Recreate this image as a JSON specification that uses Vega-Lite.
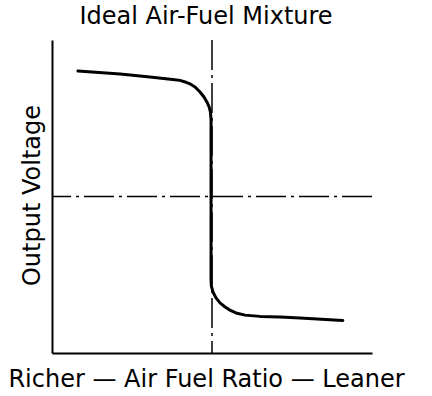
{
  "$schema": "https://vega.github.io/schema/vega-lite/v6.json",
  "autosize": {"type": "none"},
  "width": 320,
  "height": 313,
  "padding": {"left": 52, "top": 40, "right": 60, "bottom": 43},
  "background": "white",
  "config": {"view": {"stroke": null}, "font": "DejaVu Sans"},
  "title": {"text": "Ideal Air-Fuel Mixture", "fontSize": 24, "fontWeight": "normal", "color": "black", "anchor": "middle", "offset": 10, "dx": -6, "font": "DejaVu Sans"},
  "datasets": {
    "curve": [
      {"ratio": 8.1, "voltage": 90.1, "o": 1},
      {"ratio": 21.3, "voltage": 89.1, "o": 2},
      {"ratio": 30.6, "voltage": 88.2, "o": 3},
      {"ratio": 38.4, "voltage": 87.3, "o": 4},
      {"ratio": 40.0, "voltage": 87.1, "o": 5},
      {"ratio": 41.6, "voltage": 86.6, "o": 6},
      {"ratio": 43.1, "voltage": 86.0, "o": 7},
      {"ratio": 44.7, "voltage": 85.0, "o": 8},
      {"ratio": 46.25, "voltage": 83.4, "o": 9},
      {"ratio": 47.5, "voltage": 81.8, "o": 10},
      {"ratio": 48.4, "voltage": 80.2, "o": 11},
      {"ratio": 49.1, "voltage": 78.6, "o": 12},
      {"ratio": 49.5, "voltage": 77.0, "o": 13},
      {"ratio": 49.7, "voltage": 74.4, "o": 14},
      {"ratio": 49.7, "voltage": 23.3, "o": 15},
      {"ratio": 49.8, "voltage": 21.4, "o": 16},
      {"ratio": 50.3, "voltage": 19.5, "o": 17},
      {"ratio": 51.25, "voltage": 17.6, "o": 18},
      {"ratio": 52.5, "voltage": 16.0, "o": 19},
      {"ratio": 54.1, "voltage": 14.7, "o": 20},
      {"ratio": 55.6, "voltage": 13.7, "o": 21},
      {"ratio": 57.5, "voltage": 12.8, "o": 22},
      {"ratio": 60.3, "voltage": 12.1, "o": 23},
      {"ratio": 65.0, "voltage": 11.7, "o": 24},
      {"ratio": 71.25, "voltage": 11.5, "o": 25},
      {"ratio": 77.5, "voltage": 11.2, "o": 26},
      {"ratio": 90.9, "voltage": 10.4, "o": 27}
    ],
    "vref": [{"ratio": 50}],
    "href": [{"voltage": 50}]
  },
  "layer": [
    {
      "data": {"name": "vref"},
      "mark": {"type": "rule", "color": "black", "strokeWidth": 1.5, "strokeDash": [30, 5, 3, 5]},
      "encoding": {"x": {"field": "ratio", "type": "quantitative", "scale": {"domain": [0, 100]}}}
    },
    {
      "data": {"name": "href"},
      "mark": {"type": "rule", "color": "black", "strokeWidth": 1.5, "strokeDash": [30, 5, 3, 5]},
      "encoding": {"y": {"field": "voltage", "type": "quantitative", "scale": {"domain": [0, 100]}}}
    },
    {
      "data": {"name": "curve"},
      "mark": {"type": "line", "color": "black", "strokeWidth": 3, "interpolate": "linear", "strokeJoin": "round", "strokeCap": "round"},
      "encoding": {
        "x": {"field": "ratio", "type": "quantitative", "scale": {"domain": [0, 100]},
          "axis": {"title": "Richer — Air Fuel Ratio — Leaner", "labels": false, "ticks": false, "grid": false, "domainColor": "black", "domainWidth": 2, "titleFontSize": 24, "titleFontWeight": "normal", "titleColor": "black", "titlePadding": 14, "titleX": 154, "titleFont": "DejaVu Sans"}},
        "y": {"field": "voltage", "type": "quantitative", "scale": {"domain": [0, 100]},
          "axis": {"title": "Output Voltage", "labels": false, "ticks": false, "grid": false, "domainColor": "black", "domainWidth": 2, "titleFontSize": 24, "titleFontWeight": "normal", "titleColor": "black", "titlePadding": 8, "titleY": 155, "titleFont": "DejaVu Sans"}},
        "order": {"field": "o", "type": "quantitative"}
      }
    }
  ]
}
